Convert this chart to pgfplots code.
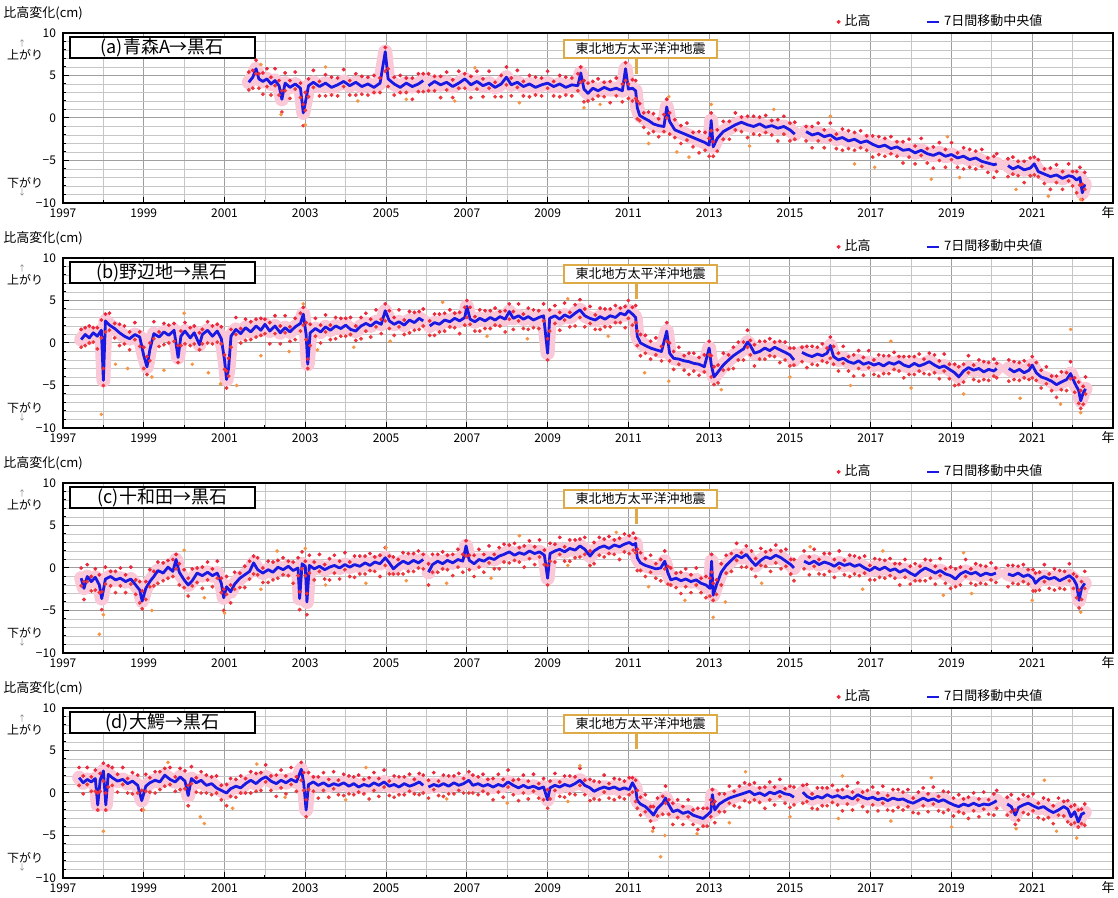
\documentclass[border=0pt]{standalone}
\usepackage{fontspec}
\setmainfont{Noto Sans CJK JP}
\usepackage{pgfplots}
\usepackage{pgfplotstable}
\pgfplotsset{compat=1.18}
\definecolor{dotred}{RGB}{235,40,60}
\definecolor{dotorg}{RGB}{245,150,70}
\definecolor{medblue}{RGB}{25,25,225}
\definecolor{quake}{RGB}{222,170,70}
\definecolor{haze}{RGB}{250,200,215}

\pgfplotstableread{
x y hi lo
2001.60 4.2 5.4 3.3
2001.70 4.8 5.6 3.5
2001.78 5.8 6.8 5.2
2001.85 4.6 5.2 3.5
2001.95 4.3 5.3 2.8
2002.05 4.6 5.8 3.7
2002.15 4.0 4.8 2.7
2002.25 4.4 5.8 3.8
2002.35 3.8 4.4 2.7
2002.42 2.2 3.2 0.7
2002.50 4.1 5.3 3.2
2002.62 3.6 4.4 2.3
2002.75 4.0 5.4 3.4
2002.88 3.5 4.1 2.4
2002.95 0.6 1.6 -0.9
2003.00 1.8 3.0 0.9
2003.08 3.8 4.6 2.5
2003.20 4.2 5.6 3.6
2003.35 3.7 4.3 2.6
2003.50 4.1 5.1 2.6
2003.65 3.6 4.8 2.7
2003.80 3.9 4.7 2.6
2003.95 4.3 5.7 3.7
2004.10 3.8 4.4 2.7
2004.25 4.2 5.2 2.7
2004.40 3.7 4.9 2.8
2004.55 4.0 4.8 2.7
2004.70 3.6 5.0 3.0
2004.85 4.1 4.7 3.0
2004.98 7.8 8.3 5.5
2005.05 4.6 5.8 3.7
2005.20 4.0 4.8 2.7
2005.35 3.6 5.0 3.0
2005.50 4.1 4.7 3.0
2005.65 3.7 4.7 2.2
2005.80 4.0 5.2 3.1
2005.92 4.4 5.2 3.1
nan nan nan nan
2006.05 3.8 5.2 3.2
2006.20 4.3 4.9 3.2
2006.35 3.9 4.9 2.4
2006.50 4.2 5.4 3.3
2006.65 3.7 4.5 2.4
2006.80 4.1 5.5 3.5
2006.95 4.6 5.2 3.5
2007.10 3.9 4.9 2.4
2007.25 4.3 5.5 3.4
2007.40 3.8 4.6 2.5
2007.55 4.1 5.5 3.5
2007.70 3.6 4.2 2.5
2007.85 4.0 5.0 2.5
2007.98 4.8 6.0 3.9
2008.10 3.9 4.7 2.6
2008.25 4.2 5.6 3.6
2008.40 3.7 4.3 2.6
2008.55 4.0 5.0 2.5
2008.70 3.6 4.8 2.7
2008.85 3.9 4.7 2.6
2009.00 4.1 5.5 3.5
2009.15 3.7 4.3 2.6
2009.30 4.0 5.0 2.5
2009.45 3.6 4.8 2.7
2009.60 3.9 4.7 2.6
2009.75 3.8 5.2 3.2
2009.82 5.3 6.0 4.2
2009.90 3.4 4.4 1.9
2010.00 2.9 4.1 2.0
2010.12 3.5 4.3 2.2
2010.25 3.2 4.6 2.6
2010.40 3.6 4.2 2.5
2010.55 3.3 4.3 1.8
2010.70 3.5 4.7 2.6
2010.85 3.2 4.0 1.9
2010.93 5.8 6.5 4.4
2011.00 3.4 4.0 2.3
2011.10 3.5 4.5 2.0
2011.18 3.2 4.4 2.3
2011.22 1.2 2.0 -0.1
2011.28 0.3 1.7 -0.3
2011.38 0.0 0.6 -1.1
2011.50 -0.3 0.7 -1.8
2011.62 -0.7 0.5 -1.6
2011.75 -0.9 -0.1 -2.2
2011.88 -1.0 0.4 -1.6
2011.95 1.3 2.2 0.0
2012.02 -0.4 0.6 -1.9
2012.15 -1.4 -0.2 -2.3
2012.30 -1.7 -0.9 -3.0
2012.45 -2.0 -0.6 -2.6
2012.60 -2.3 -1.7 -3.4
2012.75 -2.6 -1.6 -4.1
2012.90 -2.9 -1.7 -3.8
2013.00 -3.2 -2.4 -4.5
2013.05 -0.3 0.6 -1.5
2013.10 -3.4 -2.8 -4.5
2013.20 -2.4 -1.4 -3.9
2013.35 -1.6 -0.4 -2.5
2013.50 -1.2 -0.4 -2.5
2013.65 -0.8 0.6 -1.4
2013.80 -0.5 0.1 -1.6
2013.95 -0.8 0.2 -2.3
2014.10 -1.0 0.2 -1.9
2014.25 -0.7 0.1 -2.0
2014.40 -1.1 0.3 -1.7
2014.55 -0.9 -0.3 -2.0
2014.70 -1.2 -0.2 -2.7
2014.85 -1.0 0.2 -1.9
2015.00 -1.4 -0.6 -2.7
2015.12 -1.9 -0.5 -2.5
nan nan nan nan
2015.40 -1.6 -1.0 -2.7
2015.55 -2.0 -1.0 -3.5
2015.70 -1.8 -0.6 -2.7
2015.85 -2.2 -1.4 -3.5
2016.00 -2.0 -0.6 -2.6
2016.15 -2.5 -1.9 -3.6
2016.30 -2.3 -1.3 -3.8
2016.45 -2.7 -1.5 -3.6
2016.60 -2.5 -1.7 -3.8
2016.75 -2.9 -1.5 -3.5
2016.90 -2.7 -2.1 -3.8
2017.05 -3.1 -2.1 -4.6
2017.20 -3.4 -2.2 -4.3
2017.35 -3.2 -2.4 -4.5
2017.50 -3.6 -2.2 -4.2
2017.65 -3.4 -2.8 -4.5
2017.80 -3.8 -2.8 -5.3
2017.95 -3.7 -2.5 -4.6
2018.10 -4.1 -3.3 -5.4
2018.25 -3.8 -2.4 -4.4
2018.40 -4.2 -3.6 -5.3
2018.55 -4.4 -3.4 -5.9
2018.70 -4.1 -2.9 -5.0
2018.85 -4.5 -3.7 -5.8
2019.00 -4.3 -2.9 -4.9
2019.15 -4.7 -4.1 -5.8
2019.30 -4.5 -3.5 -6.0
2019.45 -4.9 -3.7 -5.8
2019.60 -4.7 -3.9 -6.0
2019.75 -5.1 -3.7 -5.7
2019.90 -5.3 -4.7 -6.4
2020.05 -5.5 -4.5 -7.0
2020.12 -5.4 -4.2 -6.3
nan nan nan nan
2020.40 -5.6 -4.8 -6.9
2020.52 -6.0 -4.6 -6.6
2020.65 -5.7 -5.1 -6.8
2020.80 -6.1 -5.1 -7.6
2020.95 -5.9 -4.7 -6.8
2021.05 -5.4 -4.6 -6.7
2021.15 -6.3 -4.9 -6.9
2021.30 -6.6 -6.0 -7.7
2021.45 -6.9 -5.9 -8.4
2021.60 -6.7 -5.5 -7.6
2021.75 -7.1 -6.3 -8.4
2021.90 -6.8 -5.4 -7.4
2022.00 -6.9 -6.3 -8.0
2022.10 -7.3 -6.3 -8.8
2022.18 -7.0 -5.8 -7.9
2022.24 -8.8 -7.8 -9.6
2022.30 -7.8 -6.4 -8.4
}\tA

\pgfplotstableread{
x y
2001.9 6.3
2002.4 0.4
2003.0 -0.8
2003.5 6.0
2004.3 2.0
2005.5 2.2
2006.7 2.0
2007.2 5.9
2008.3 1.8
2009.9 1.2
2010.3 1.6
2011.5 -3.0
2012.0 2.5
2012.2 -4.0
2012.5 -4.6
2013.05 1.6
2014.0 -3.3
2014.6 1.0
2016.0 0.2
2016.6 -5.4
2017.1 -5.8
2018.5 -7.2
2018.9 -2.2
2019.2 -7.0
2020.6 -8.4
2021.4 -9.2
2022.2 -9.6
}\oA

\pgfplotstableread{
x y hi lo
1997.45 0.4 1.6 -0.5
1997.55 1.0 1.8 -0.3
1997.65 0.6 2.0 0.0
1997.75 1.2 1.8 0.1
1997.85 0.8 1.8 -0.7
1997.95 1.5 2.7 0.6
1998.00 -4.4 -3.0 -5.0
1998.05 2.6 3.4 1.3
1998.15 2.1 3.5 1.5
1998.28 1.7 2.3 0.6
1998.40 1.2 2.2 -0.3
1998.52 0.8 2.0 -0.1
1998.65 0.5 1.3 -0.8
1998.78 1.0 2.4 0.4
1998.90 0.7 1.3 -0.4
1999.00 -1.5 -0.5 -3.0
1999.08 -2.8 -1.6 -3.7
1999.15 -0.8 0.0 -2.1
1999.25 1.1 2.5 0.5
1999.38 0.7 1.3 -0.4
1999.50 1.3 2.3 -0.2
1999.62 0.9 2.1 0.0
1999.75 1.5 2.3 0.2
1999.85 -1.7 -0.3 -2.3
1999.92 0.8 1.4 -0.3
2000.02 1.4 2.4 -0.1
2000.15 0.6 1.8 -0.3
2000.25 1.2 2.0 -0.1
2000.38 -0.2 1.2 -0.8
2000.45 1.0 1.6 -0.1
2000.58 1.5 2.5 0.0
2000.70 0.8 2.0 -0.1
2000.82 1.4 2.2 0.1
2000.92 0.5 1.9 -0.1
2001.00 -2.0 -1.4 -3.1
2001.05 -4.3 -3.3 -5.3
2001.10 -3.0 -1.8 -3.9
2001.16 0.8 1.6 -0.5
2001.28 1.6 3.0 1.0
2001.40 1.1 1.7 0.0
2001.52 1.8 2.8 0.3
2001.65 1.3 2.5 0.4
2001.78 2.0 2.8 0.7
2001.90 1.5 2.9 0.9
2002.00 2.2 2.8 1.1
2002.12 1.4 2.4 -0.1
2002.25 2.0 3.2 1.1
2002.38 1.2 2.0 -0.1
2002.50 1.8 3.2 1.2
2002.62 1.3 1.9 0.2
2002.75 1.9 2.9 0.4
2002.88 2.3 3.5 1.4
2002.95 3.4 4.2 2.1
2003.02 1.0 2.4 0.4
2003.06 -2.5 -1.9 -3.0
2003.12 1.2 2.2 -0.3
2003.25 1.7 2.9 0.8
2003.38 1.3 2.1 0.0
2003.50 1.9 3.3 1.3
2003.62 1.5 2.1 0.4
2003.75 2.0 3.0 0.5
2003.88 1.7 2.9 0.8
2004.00 2.1 2.9 0.8
2004.12 1.6 3.0 1.0
2004.25 1.4 2.0 0.3
2004.38 2.0 3.0 0.5
2004.50 2.3 3.5 1.4
2004.62 2.0 2.8 0.7
2004.75 2.5 3.9 1.9
2004.88 2.2 2.8 1.1
2004.98 3.8 4.6 2.6
2005.08 2.6 3.8 1.7
2005.20 2.2 3.0 0.9
2005.32 2.5 3.9 1.9
2005.45 2.1 2.7 1.0
2005.58 2.7 3.7 1.2
2005.70 2.4 3.6 1.5
2005.82 2.9 3.7 1.6
2005.92 2.6 4.0 2.0
nan nan nan nan
2006.08 2.0 2.6 0.9
2006.20 2.4 3.4 0.9
2006.32 2.2 3.4 1.3
2006.45 2.7 3.5 1.4
2006.58 2.5 3.9 1.9
2006.70 2.9 3.5 1.8
2006.82 2.6 3.6 1.1
2006.95 3.0 4.2 2.1
2007.00 4.3 5.0 3.0
2007.08 2.8 4.2 2.2
2007.20 2.5 3.1 1.4
2007.32 2.9 3.9 1.4
2007.45 2.6 3.8 1.7
2007.58 3.0 3.8 1.7
2007.70 2.7 4.1 2.1
2007.82 3.1 3.7 2.0
2007.95 2.8 3.8 1.3
2008.05 3.7 4.6 2.8
2008.15 2.9 3.7 1.6
2008.28 3.2 4.6 2.6
2008.40 2.8 3.4 1.7
2008.52 3.1 4.1 1.6
2008.65 2.7 3.9 1.8
2008.78 3.0 3.8 1.7
2008.90 3.2 4.6 2.6
2009.00 -1.2 0.5 -2.0
2009.05 2.9 3.9 1.4
2009.18 3.2 4.4 2.3
2009.30 2.8 3.6 1.5
2009.42 3.3 4.7 2.7
2009.55 3.0 3.6 1.9
2009.68 3.5 4.5 2.0
2009.80 3.9 5.1 3.0
2009.92 3.2 4.0 1.9
2010.05 2.9 4.3 2.3
2010.18 2.7 3.3 1.6
2010.30 3.1 4.1 1.6
2010.42 2.8 4.0 1.9
2010.55 3.2 4.0 1.9
2010.68 3.0 4.4 2.4
2010.80 3.5 4.1 2.4
2010.92 3.3 4.3 1.8
2011.00 3.8 5.0 2.9
2011.10 3.4 4.2 2.1
2011.18 3.0 4.4 2.4
2011.22 0.8 1.4 -0.3
2011.30 0.0 1.0 -1.5
2011.42 -0.3 0.9 -1.2
2011.55 -0.6 0.2 -1.9
2011.68 -0.8 0.6 -1.4
2011.82 -1.0 -0.4 -2.1
2011.95 1.4 2.4 0.2
2012.02 -1.2 0.0 -2.1
2012.12 -1.8 -1.0 -3.1
2012.25 -1.9 -0.5 -2.5
2012.38 -2.1 -1.5 -3.2
2012.50 -2.2 -1.2 -3.7
2012.62 -2.4 -1.2 -3.3
2012.75 -2.5 -1.7 -3.8
2012.88 -2.8 -1.4 -3.4
2013.00 -0.6 0.2 -1.4
2013.05 -2.5 -1.5 -4.0
2013.12 -4.0 -2.8 -4.9
2013.22 -3.4 -2.6 -4.7
2013.35 -2.6 -1.2 -3.2
2013.48 -2.0 -1.4 -3.1
2013.60 -1.5 -0.5 -3.0
2013.72 -1.1 0.1 -2.0
2013.85 -0.7 0.1 -2.0
2013.95 0.1 1.5 -0.5
2014.02 -0.3 0.3 -1.4
2014.12 -1.2 -0.2 -2.7
2014.25 -1.0 0.2 -1.9
2014.38 -0.6 0.2 -1.9
2014.50 -0.9 0.5 -1.5
2014.62 -0.5 0.1 -1.6
2014.75 -0.8 0.2 -2.3
2014.88 -1.1 0.1 -2.0
2015.00 -1.4 -0.6 -2.7
2015.10 -2.0 -0.6 -2.6
nan nan nan nan
2015.30 -1.1 -0.5 -2.2
2015.42 -1.4 -0.4 -2.9
2015.55 -1.6 -0.4 -2.5
2015.68 -1.3 -0.5 -2.6
2015.80 -1.5 -0.1 -2.1
2015.92 -1.2 -0.6 -2.3
2016.00 -0.3 0.7 -1.8
2016.08 -1.6 -0.4 -2.5
2016.20 -2.0 -1.2 -3.3
2016.32 -1.8 -0.4 -2.4
2016.45 -2.2 -1.6 -3.3
2016.58 -2.4 -1.4 -3.9
2016.70 -2.1 -0.9 -3.0
2016.82 -2.5 -1.7 -3.8
2016.95 -2.3 -0.9 -2.9
2017.08 -2.6 -2.0 -3.7
2017.20 -2.4 -1.4 -3.9
2017.32 -2.7 -1.5 -3.6
2017.45 -2.3 -1.5 -3.6
2017.58 -2.5 -1.1 -3.1
2017.70 -2.2 -1.6 -3.3
2017.82 -2.6 -1.6 -4.1
2017.95 -2.8 -1.6 -3.7
2018.08 -2.4 -1.6 -3.7
2018.20 -2.7 -1.3 -3.3
2018.32 -2.5 -1.9 -3.6
2018.45 -2.2 -1.2 -3.7
2018.58 -2.6 -1.4 -3.5
2018.70 -2.9 -2.1 -4.2
2018.82 -2.7 -1.3 -3.3
2018.95 -3.1 -2.5 -4.2
2019.08 -3.5 -2.5 -5.0
2019.18 -4.0 -2.8 -4.9
2019.30 -3.3 -2.5 -4.6
2019.42 -2.9 -1.5 -3.5
2019.55 -3.2 -2.6 -4.3
2019.68 -3.0 -2.0 -4.5
2019.80 -3.4 -2.2 -4.3
2019.92 -3.1 -2.3 -4.4
2020.05 -3.3 -1.9 -3.9
2020.12 -3.0 -2.4 -4.1
nan nan nan nan
2020.42 -3.0 -2.0 -4.5
2020.55 -3.4 -2.2 -4.3
2020.68 -3.1 -2.3 -4.4
2020.80 -3.5 -2.1 -4.1
2020.92 -3.2 -2.6 -4.3
2021.00 -2.6 -1.6 -4.1
2021.10 -3.5 -2.3 -4.4
2021.22 -4.0 -3.2 -5.3
2021.35 -4.2 -2.8 -4.8
2021.48 -4.5 -3.9 -5.6
2021.60 -4.9 -3.9 -6.4
2021.72 -4.6 -3.4 -5.5
2021.85 -4.3 -3.5 -5.6
2021.95 -3.6 -2.2 -4.2
2022.05 -4.7 -4.1 -5.8
2022.15 -5.6 -4.6 -7.1
2022.20 -6.8 -5.6 -7.7
2022.26 -5.9 -5.1 -7.2
2022.32 -5.4 -4.0 -6.0
}\tB

\pgfplotstableread{
x y
1997.95 -8.4
1998.3 -2.5
1998.6 -3.0
1999.2 -4.0
1999.5 -3.2
2000.0 3.5
2000.2 -2.5
2000.6 -3.5
2000.9 -4.8
2001.3 -5.0
2001.9 -1.5
2002.6 -1.0
2002.95 4.6
2003.3 -0.8
2004.2 -0.5
2005.1 0.2
2006.4 4.8
2007.5 0.8
2008.5 0.5
2009.5 5.2
2010.5 0.8
2011.4 -3.5
2012.0 -4.5
2013.3 -5.5
2015.0 -4.0
2016.5 -5.0
2017.5 0.2
2018.0 -5.3
2019.3 -6.0
2020.7 -6.5
2021.7 -7.2
2021.95 1.6
2022.2 -8.2
}\oB

\pgfplotstableread{
x y hi lo
1997.45 -1.2 0.0 -2.1
1997.52 -2.4 -1.6 -3.7
1997.60 -1.0 0.4 -1.6
1997.70 -1.6 -1.0 -2.7
1997.80 -1.1 -0.1 -2.6
1997.90 -2.0 -0.8 -2.9
1997.96 -3.6 -2.8 -4.9
1998.05 -1.3 0.1 -1.9
1998.18 -1.0 -0.4 -2.1
1998.30 -1.4 -0.4 -2.9
1998.42 -1.2 0.0 -2.1
1998.55 -1.6 -0.8 -2.9
1998.68 -1.3 0.1 -1.9
1998.80 -2.0 -1.4 -3.1
1998.90 -2.6 -1.6 -4.1
1998.96 -3.9 -2.7 -4.8
1999.05 -2.4 -1.6 -3.7
1999.15 -1.6 -0.2 -2.2
1999.25 -1.0 -0.4 -2.1
1999.35 -0.3 0.7 -1.8
1999.48 -0.6 0.6 -1.5
1999.60 0.1 0.9 -1.2
1999.72 -0.4 1.0 -1.0
1999.80 1.0 1.6 -0.1
1999.88 -0.5 0.5 -2.0
2000.00 -1.4 -0.2 -2.3
2000.10 -2.0 -1.2 -3.3
2000.20 -1.5 -0.1 -2.1
2000.32 -0.6 0.0 -1.7
2000.45 -0.9 0.1 -2.4
2000.58 -0.5 0.7 -1.4
2000.70 -0.9 -0.1 -2.2
2000.82 -0.6 0.8 -1.2
2000.92 -1.8 -1.2 -2.9
2000.98 -3.5 -2.5 -5.0
2001.05 -2.2 -1.0 -3.1
2001.15 -2.8 -2.0 -4.1
2001.25 -1.9 -0.5 -2.5
2001.38 -1.2 -0.6 -2.3
2001.50 -0.8 0.2 -2.3
2001.62 -0.4 0.8 -1.3
2001.72 0.6 1.4 -0.7
2001.82 -0.2 1.2 -0.8
2001.95 -0.6 0.0 -1.7
2002.08 -0.2 0.8 -1.7
2002.20 -0.5 0.7 -1.4
2002.32 0.1 0.9 -1.2
2002.45 -0.2 1.2 -0.8
2002.58 0.2 0.8 -0.9
2002.70 -0.3 0.7 -1.8
2002.82 0.0 1.2 -0.9
2002.86 -3.6 -2.8 -4.9
2002.92 0.5 1.9 -0.1
2003.00 0.2 0.8 -0.9
2003.04 -4.0 -3.0 -5.5
2003.10 0.3 1.5 -0.6
2003.22 -0.1 0.7 -1.4
2003.35 0.2 1.6 -0.4
2003.48 -0.2 0.4 -1.3
2003.60 0.1 1.1 -1.4
2003.72 0.3 1.5 -0.6
2003.85 0.0 0.8 -1.3
2003.98 0.4 1.8 -0.2
2004.10 0.1 0.7 -1.0
2004.22 0.4 1.4 -1.1
2004.35 0.2 1.4 -0.7
2004.48 0.6 1.4 -0.7
2004.60 0.3 1.7 -0.3
2004.72 0.7 1.3 -0.4
2004.85 0.5 1.5 -1.0
2004.98 1.2 2.4 0.3
2005.08 0.6 1.4 -0.7
2005.18 -0.1 1.3 -0.7
2005.30 0.4 1.0 -0.7
2005.42 0.8 1.8 -0.7
2005.55 0.5 1.7 -0.4
2005.68 0.9 1.7 -0.4
2005.80 0.6 2.0 0.0
2005.92 1.0 1.6 -0.1
nan nan nan nan
2006.05 -0.5 0.5 -2.0
2006.15 0.4 1.6 -0.5
2006.28 0.8 1.6 -0.5
2006.40 0.5 1.9 -0.1
2006.52 0.9 1.5 -0.2
2006.65 0.6 1.6 -0.9
2006.78 1.0 2.2 0.1
2006.90 0.8 1.6 -0.5
2006.98 2.6 3.2 1.4
2007.06 0.9 1.5 -0.2
2007.18 0.5 1.5 -1.0
2007.30 1.0 2.2 0.1
2007.42 0.8 1.6 -0.5
2007.55 1.2 2.6 0.6
2007.68 1.0 1.6 -0.1
2007.80 1.4 2.4 -0.1
2007.92 1.6 2.8 0.7
2008.05 1.9 2.7 0.6
2008.18 1.5 2.9 0.9
2008.30 1.8 2.4 0.7
2008.42 1.6 2.6 0.1
2008.55 2.0 3.2 1.1
2008.68 1.7 2.5 0.4
2008.80 1.9 3.3 1.3
2008.92 1.5 2.1 0.4
2009.00 -1.2 0.3 -2.0
2009.06 1.7 2.9 0.8
2009.18 2.0 2.8 0.7
2009.30 2.2 3.6 1.6
2009.42 1.9 2.5 0.8
2009.55 2.3 3.3 0.8
2009.68 2.1 3.3 1.2
2009.80 2.6 3.4 1.3
2009.92 2.2 3.6 1.6
2010.05 1.4 2.0 0.3
2010.15 2.0 3.0 0.5
2010.28 2.4 3.6 1.5
2010.40 2.6 3.4 1.3
2010.52 2.3 3.7 1.7
2010.65 2.7 3.3 1.6
2010.78 2.5 3.5 1.0
2010.90 2.8 4.0 1.9
2011.02 3.0 3.8 1.7
2011.12 2.7 4.1 2.1
2011.18 2.9 3.5 1.8
2011.22 1.2 2.2 -0.3
2011.30 0.6 1.8 -0.3
2011.42 0.3 1.1 -1.0
2011.55 0.1 1.5 -0.5
2011.68 -0.1 0.5 -1.2
2011.80 0.0 1.0 -1.5
2011.90 0.8 2.0 -0.1
2011.98 -0.6 0.2 -1.9
2012.05 -1.4 0.0 -2.0
2012.18 -1.2 -0.6 -2.3
2012.30 -1.5 -0.5 -3.0
2012.42 -1.3 -0.1 -2.2
2012.55 -1.6 -0.8 -2.9
2012.68 -1.4 0.0 -2.0
2012.80 -1.8 -1.2 -2.9
2012.92 -2.0 -1.0 -3.5
2013.02 -2.4 -1.2 -3.3
2013.06 0.8 1.6 -0.5
2013.10 -3.2 -1.8 -3.8
2013.18 -2.0 -1.4 -3.1
2013.30 -0.5 0.5 -2.0
2013.42 0.3 1.5 -0.6
2013.55 0.9 1.7 -0.4
2013.68 1.5 2.9 0.9
2013.80 1.2 1.8 0.1
2013.92 1.6 2.6 0.1
2014.05 0.8 2.0 -0.1
2014.15 0.3 1.1 -1.0
2014.28 0.9 2.3 0.3
2014.40 1.3 1.9 0.2
2014.52 1.1 2.1 -0.4
2014.65 1.5 2.7 0.6
2014.78 1.2 2.0 -0.1
2014.90 0.8 2.2 0.2
2015.02 0.4 1.0 -0.7
2015.10 0.0 1.0 -1.5
nan nan nan nan
2015.35 0.8 2.0 -0.1
2015.48 0.5 1.3 -0.8
2015.60 0.8 2.2 0.2
2015.72 0.4 1.0 -0.7
2015.85 0.7 1.7 -0.8
2015.98 0.5 1.7 -0.4
2016.10 0.2 1.0 -1.1
2016.22 0.6 2.0 0.0
2016.35 0.3 0.9 -0.8
2016.48 0.5 1.5 -1.0
2016.60 0.2 1.4 -0.7
2016.72 0.4 1.2 -0.9
2016.85 0.0 1.4 -0.6
2016.98 -0.3 0.3 -1.4
2017.10 0.1 1.1 -1.4
2017.22 -0.2 1.0 -1.1
2017.35 0.1 0.9 -1.2
2017.48 -0.3 1.1 -0.9
2017.60 -0.1 0.5 -1.2
2017.72 -0.5 0.5 -2.0
2017.85 -0.2 1.0 -1.1
2017.98 -0.6 0.2 -1.9
2018.10 -0.9 0.5 -1.5
2018.22 -0.4 0.2 -1.5
2018.35 0.0 1.0 -1.5
2018.48 -0.3 0.9 -1.2
2018.60 -0.6 0.2 -1.9
2018.72 -0.3 1.1 -0.9
2018.85 -0.7 -0.1 -1.8
2018.98 -0.9 0.1 -2.4
2019.10 -1.3 -0.1 -2.2
2019.22 -0.7 0.1 -2.0
2019.35 -0.4 1.0 -1.0
2019.48 -0.7 -0.1 -1.8
2019.60 -0.5 0.5 -2.0
2019.72 -0.9 0.3 -1.8
2019.85 -0.6 0.2 -1.9
2019.98 -0.8 0.6 -1.4
2020.10 -0.6 0.0 -1.7
nan nan nan nan
2020.40 -0.7 0.3 -2.2
2020.52 -0.9 0.3 -1.8
2020.65 -0.6 0.2 -1.9
2020.78 -1.0 0.4 -1.6
2020.90 -0.8 -0.2 -1.9
2021.02 -1.2 -0.2 -2.7
2021.08 -1.8 -0.6 -2.7
2021.18 -1.3 -0.5 -2.6
2021.30 -1.0 0.4 -1.6
2021.42 -1.3 -0.7 -2.4
2021.55 -1.1 -0.1 -2.6
2021.68 -1.5 -0.3 -2.4
2021.80 -1.2 -0.4 -2.5
2021.92 -0.9 0.5 -1.5
2022.02 -1.3 -0.7 -2.4
2022.10 -2.0 -1.0 -3.5
2022.16 -3.8 -2.6 -4.7
2022.22 -2.4 -1.6 -3.7
2022.30 -1.8 -0.4 -2.4
}\tC

\pgfplotstableread{
x y
1997.9 -7.8
1998.0 -5.5
1999.2 -5.0
2000.0 2.1
2000.5 -3.5
2001.0 -5.3
2001.9 -2.5
2002.3 2.0
2003.0 2.3
2003.5 -2.0
2004.5 -1.8
2005.0 2.4
2005.5 -1.5
2006.5 -1.8
2007.6 -1.2
2008.3 3.8
2009.5 0.3
2010.7 4.2
2011.5 -2.2
2012.4 -3.8
2013.1 -5.8
2013.4 -4.0
2014.3 -1.8
2015.5 2.5
2016.8 -2.5
2017.3 2.0
2018.8 -3.2
2019.3 1.8
2019.5 -3.0
2021.0 -3.8
2022.2 -5.2
}\oC

\pgfplotstableread{
x y hi lo
1997.40 1.8 3.0 0.9
1997.50 1.2 2.0 -0.1
1997.60 1.6 3.0 1.0
1997.70 1.3 1.9 0.2
1997.80 1.7 2.7 0.2
1997.86 -1.4 0.0 -2.0
1997.92 1.5 2.3 0.2
1998.00 2.6 3.5 1.4
1998.06 -1.4 0.0 -2.0
1998.12 2.2 3.2 0.7
1998.22 1.8 3.0 0.9
1998.35 1.4 2.2 0.1
1998.48 1.6 3.0 1.0
1998.60 1.1 1.7 0.0
1998.72 1.4 2.4 -0.1
1998.85 0.9 2.1 0.0
1998.95 -0.9 0.3 -2.0
1999.05 0.8 2.2 0.2
1999.15 1.2 1.8 0.1
1999.28 1.5 2.5 0.0
1999.40 1.3 2.5 0.4
1999.52 2.1 2.9 0.8
1999.65 1.6 3.0 1.0
1999.78 1.3 1.9 0.2
1999.90 1.9 2.9 0.4
2000.02 1.4 2.6 0.5
2000.10 -0.3 0.9 -1.5
2000.18 1.7 3.1 1.1
2000.30 1.2 1.8 0.1
2000.42 1.5 2.5 0.0
2000.55 0.9 2.1 0.0
2000.68 1.1 1.9 -0.2
2000.80 0.6 2.0 0.0
2000.92 0.3 0.9 -0.8
2001.05 0.0 1.0 -1.5
2001.15 0.5 1.7 -0.4
2001.28 0.8 1.6 -0.5
2001.40 0.6 2.0 0.0
2001.52 1.1 1.7 0.0
2001.65 1.5 2.5 0.0
2001.78 1.1 2.3 0.2
2001.90 1.6 2.4 0.3
2002.02 1.9 3.3 1.3
2002.15 1.4 2.0 0.3
2002.28 1.1 2.1 -0.4
2002.40 1.5 2.7 0.6
2002.52 1.2 2.0 -0.1
2002.65 1.6 3.0 1.0
2002.78 1.3 1.9 0.2
2002.90 2.8 3.6 1.5
2002.96 1.2 2.4 0.3
2003.02 -2.0 -0.8 -2.8
2003.08 1.0 2.4 0.4
2003.20 1.3 1.9 0.2
2003.32 0.9 1.9 -0.6
2003.45 1.2 2.4 0.3
2003.58 0.8 1.6 -0.5
2003.70 1.1 2.5 0.5
2003.82 0.9 1.5 -0.2
2003.95 1.2 2.2 -0.3
2004.08 0.8 2.0 -0.1
2004.20 1.1 1.9 -0.2
2004.32 0.7 2.1 0.1
2004.45 1.0 1.6 -0.1
2004.58 0.8 1.8 -0.7
2004.70 1.2 2.4 0.3
2004.82 0.9 1.7 -0.4
2004.95 1.3 2.7 0.7
2005.08 0.8 1.4 -0.3
2005.20 1.0 2.0 -0.5
2005.32 0.7 1.9 -0.2
2005.45 1.1 1.9 -0.2
2005.58 0.8 2.2 0.2
2005.70 1.0 1.6 -0.1
2005.82 1.3 2.3 -0.2
2005.92 0.9 2.1 0.0
nan nan nan nan
2006.05 0.7 1.5 -0.6
2006.18 1.0 2.4 0.4
2006.30 0.8 1.4 -0.3
2006.42 1.1 2.1 -0.4
2006.55 0.8 2.0 -0.1
2006.68 1.2 2.0 -0.1
2006.80 0.9 2.3 0.3
2006.92 1.1 1.7 0.0
2007.05 1.5 2.5 0.0
2007.15 0.9 2.1 0.0
2007.28 1.1 1.9 -0.2
2007.40 0.8 2.2 0.2
2007.52 1.0 1.6 -0.1
2007.65 0.7 1.7 -0.8
2007.78 1.0 2.2 0.1
2007.90 0.8 1.6 -0.5
2008.02 1.3 2.7 0.7
2008.15 0.9 1.5 -0.2
2008.28 0.6 1.6 -0.9
2008.40 0.9 2.1 0.0
2008.52 0.6 1.4 -0.7
2008.65 0.8 2.2 0.2
2008.78 0.5 1.1 -0.6
2008.90 0.7 1.7 -0.8
2009.00 -0.8 0.4 -1.8
2009.06 0.6 1.4 -0.7
2009.18 0.9 2.3 0.3
2009.30 0.7 1.3 -0.4
2009.42 1.0 2.0 -0.5
2009.55 0.8 2.0 -0.1
2009.68 1.1 1.9 -0.2
2009.80 1.5 2.9 0.9
2009.92 0.9 1.5 -0.2
2010.05 0.6 1.6 -0.9
2010.15 0.2 1.4 -0.7
2010.28 0.5 1.3 -0.8
2010.40 0.7 2.1 0.1
2010.52 0.5 1.1 -0.6
2010.65 0.7 1.7 -0.8
2010.78 0.4 1.6 -0.5
2010.90 0.6 1.4 -0.7
2011.02 0.4 1.8 -0.2
2011.10 1.2 1.8 0.1
2011.18 0.5 1.5 -1.0
2011.22 -0.9 0.3 -1.8
2011.30 -1.3 -0.5 -2.6
2011.42 -1.6 -0.2 -2.2
2011.55 -2.2 -1.6 -3.3
2011.62 -2.6 -1.6 -4.1
2011.72 -1.8 -0.6 -2.7
2011.85 -1.2 -0.4 -2.5
2011.92 -0.6 0.8 -1.2
2012.00 -1.4 -0.8 -2.5
2012.10 -2.2 -1.2 -3.7
2012.22 -2.0 -0.8 -2.9
2012.35 -2.4 -1.6 -3.7
2012.48 -2.2 -0.8 -2.8
2012.60 -2.6 -2.0 -3.7
2012.72 -2.8 -1.8 -4.3
2012.85 -3.0 -1.8 -3.9
2012.95 -2.6 -1.8 -3.9
2013.04 -2.2 -0.8 -2.8
2013.08 -0.2 0.4 -1.3
2013.14 -2.0 -1.0 -3.5
2013.25 -1.3 -0.1 -2.2
2013.38 -0.9 -0.1 -2.2
2013.50 -0.6 0.8 -1.2
2013.62 -0.4 0.2 -1.5
2013.75 -0.2 0.8 -1.7
2013.88 0.0 1.2 -0.9
2014.00 0.2 1.0 -1.1
2014.12 -0.2 1.2 -0.8
2014.25 0.0 0.6 -1.1
2014.38 -0.3 0.7 -1.8
2014.50 0.1 1.3 -0.8
2014.62 -0.1 0.7 -1.4
2014.75 0.2 1.6 -0.4
2014.88 -0.1 0.5 -1.2
2015.00 -0.2 0.8 -1.7
2015.10 -0.5 0.7 -1.4
nan nan nan nan
2015.32 0.1 0.9 -1.2
2015.42 -0.4 1.0 -1.0
2015.55 -0.7 -0.1 -1.8
2015.68 -0.4 0.6 -1.9
2015.80 -0.6 0.6 -1.5
2015.92 -0.2 0.6 -1.5
2016.05 -0.5 0.9 -1.1
2016.18 -0.3 0.3 -1.4
2016.30 -0.6 0.4 -2.1
2016.42 -0.4 0.8 -1.3
2016.55 -0.7 0.1 -2.0
2016.68 -0.2 1.2 -0.8
2016.80 -0.5 0.1 -1.6
2016.92 -0.7 0.3 -2.2
2017.05 -0.5 0.7 -1.4
2017.18 -0.8 0.0 -2.1
2017.30 -0.6 0.8 -1.2
2017.42 -0.9 -0.3 -2.0
2017.55 -0.6 0.4 -2.1
2017.68 -0.8 0.4 -1.7
2017.80 -0.7 0.1 -2.0
2017.92 -1.0 0.4 -1.6
2018.05 -1.2 -0.6 -2.3
2018.18 -0.9 0.1 -2.4
2018.30 -0.6 0.6 -1.5
2018.42 -0.9 -0.1 -2.2
2018.55 -0.7 0.7 -1.3
2018.68 -1.0 -0.4 -2.1
2018.80 -0.8 0.2 -2.3
2018.92 -1.1 0.1 -2.0
2019.05 -1.4 -0.6 -2.7
2019.18 -1.6 -0.2 -2.2
2019.30 -1.3 -0.7 -2.4
2019.42 -1.5 -0.5 -3.0
2019.55 -1.2 0.0 -2.1
2019.68 -1.5 -0.7 -2.8
2019.80 -1.3 0.1 -1.9
2019.92 -1.4 -0.8 -2.5
2020.05 -1.1 -0.1 -2.6
2020.12 -0.9 0.3 -1.8
nan nan nan nan
2020.38 -1.3 -0.5 -2.6
2020.48 -1.6 -0.2 -2.2
2020.58 -2.6 -2.0 -3.7
2020.66 -1.7 -0.7 -3.2
2020.78 -1.4 -0.2 -2.3
2020.90 -1.2 -0.4 -2.5
2021.02 -1.5 -0.1 -2.1
2021.15 -1.8 -1.2 -2.9
2021.28 -1.6 -0.6 -3.1
2021.40 -2.0 -0.8 -2.9
2021.52 -2.3 -1.5 -3.6
2021.65 -2.0 -0.6 -2.6
2021.78 -1.6 -1.0 -2.7
2021.88 -1.9 -0.9 -3.4
2021.96 -2.8 -1.6 -3.7
2022.05 -2.2 -1.4 -3.5
2022.14 -3.4 -2.0 -4.0
2022.22 -2.5 -1.9 -3.6
2022.30 -2.3 -1.3 -3.8
}\tD

\pgfplotstableread{
x y
1998.0 -4.5
1999.0 -2.0
1999.6 3.6
2000.4 -2.8
2000.5 -3.6
2001.2 -1.8
2001.8 3.4
2002.5 -0.5
2004.0 -0.8
2004.5 3.0
2006.5 -0.7
2008.0 -1.2
2009.5 -1.0
2009.8 3.2
2011.6 -4.5
2011.8 -7.5
2011.9 -5.0
2012.7 -4.8
2013.5 -3.5
2013.9 2.5
2015.0 -2.8
2016.2 -3.0
2016.3 2.0
2017.5 -3.3
2018.5 1.8
2019.0 -4.0
2020.6 -4.2
2021.3 1.5
2021.6 -4.5
2022.1 -5.3
}\oD

\pgfplotsset{
  panel/.style={
    scale only axis, width=525pt, height=85pt,
    xmin=1997, xmax=2023, ymin=-10, ymax=10,
    clip=false,
    unbounded coords=jump,
    xtick={1997,1999,2001,2003,2005,2007,2009,2011,2013,2015,2017,2019,2021},
    xticklabels={1997,1999,2001,2003,2005,2007,2009,2011,2013,2015,2017,2019,2021},
    minor xtick={1998,2000,2002,2004,2006,2008,2010,2012,2014,2016,2018,2020,2022},
    ytick={-10,-5,0,5,10},
    yticklabels={−10,−5,0,5,10},
    minor ytick={-9,-8,-7,-6,-4,-3,-2,-1,1,2,3,4,6,7,8,9},
    grid=both,
    major grid style={draw=gray!75, line width=0.5pt},
    minor grid style={draw=gray!45, line width=0.4pt},
    tick align=inside, tick pos=left,
    major tick length=3pt, minor tick length=1.5pt,
    tick style={black, line width=0.5pt},
    axis line style={black, line width=0.8pt},
    /pgf/number format/assume math mode=true,
    tick label style={font=\fontsize{6}{7}\selectfont},
    xticklabel style={yshift=0.5pt},
    legend style={draw=none, fill=none, at={(0.937,1.065)}, anchor=east,
      font=\fontsize{6.5}{7}\selectfont, inner sep=0pt,
      /tikz/every even column/.append style={column sep=26pt}},
    legend columns=2, legend cell align=left,
  },
  band/.style={forget plot, no markers, draw=haze, line width=7pt,
    line join=round, line cap=round},
  hi/.style={only marks, mark=*, mark size=0.75pt, color=dotred,
    legend image code/.code={\fill[dotred] (3pt,0pt) circle (0.8pt);}},
  lo/.style={forget plot, only marks, mark=*, mark size=0.75pt, color=dotred!85!dotorg},
  out/.style={forget plot, only marks, mark=*, mark size=0.7pt, color=dotorg},
  med/.style={medblue, line width=1.4pt, no markers, line join=round,
    legend image code/.code={\draw[medblue, line width=0.8pt] (0pt,0pt) -- (6pt,0pt);}},
}

\newcommand\panelextras[1]{%
  \node[draw=black, fill=white, line width=0.7pt, minimum width=92.5pt, minimum height=10.5pt,
    inner sep=0pt, font=\fontsize{9}{9}\selectfont] at (axis cs:1999.46,8.3) {#1};
  \node[draw=quake, fill=white, line width=0.7pt, minimum width=76.5pt, minimum height=9pt,
    inner sep=0pt, font=\fontsize{6.5}{6.5}\selectfont] at (axis cs:2011.3,8.12) {東北地方太平洋沖地震};
  \draw[quake, line width=1.4pt] (axis cs:2011.2,7.06) -- (axis cs:2011.2,5.2);
  \node[anchor=west, inner sep=0pt, xshift=-30pt, yshift=10pt, font=\fontsize{6.5}{6.5}\selectfont]
    at (rel axis cs:0,1) {比高変化(cm)};
  \node[inner sep=0pt, xshift=-19pt, font=\fontsize{6}{6}\selectfont] at (axis cs:1997,7.4) {上がり};
  \node[inner sep=0pt, xshift=-20.5pt, text=gray, font=\fontsize{4}{4}\selectfont] at (axis cs:1997,8.8) {↑};
  \node[inner sep=0pt, xshift=-19pt, font=\fontsize{6}{6}\selectfont] at (axis cs:1997,-7.6) {下がり};
  \node[inner sep=0pt, xshift=-20.5pt, text=gray, font=\fontsize{4}{4}\selectfont] at (axis cs:1997,-8.8) {↓};
  \node[anchor=north, inner sep=0pt, xshift=-2.5pt, yshift=-1.5pt, font=\fontsize{6.5}{6.5}\selectfont]
    at (rel axis cs:1,0) {年};
}

\begin{document}
\begin{tikzpicture}
\useasboundingbox (0,0) rectangle (559pt,449pt);

\begin{axis}[panel, at={(31.5pt,347.5pt)}, anchor=south west]
\addplot[band] table[x=x,y=y]{\tA};
\addplot[hi] table[x=x,y=hi]{\tA};
\addlegendentry{比高}
\addplot[lo] table[x=x,y=lo]{\tA};
\addplot[out] table[x=x,y=y]{\oA};
\addplot[med] table[x=x,y=y]{\tA};
\addlegendentry{7日間移動中央値}
\panelextras{(a)青森A→黒石}
\end{axis}

\begin{axis}[panel, at={(31.5pt,235pt)}, anchor=south west]
\addplot[band] table[x=x,y=y]{\tB};
\addplot[hi] table[x=x,y=hi]{\tB};
\addlegendentry{比高}
\addplot[lo] table[x=x,y=lo]{\tB};
\addplot[out] table[x=x,y=y]{\oB};
\addplot[med] table[x=x,y=y]{\tB};
\addlegendentry{7日間移動中央値}
\panelextras{(b)野辺地→黒石}
\end{axis}

\begin{axis}[panel, at={(31.5pt,122.5pt)}, anchor=south west]
\addplot[band] table[x=x,y=y]{\tC};
\addplot[hi] table[x=x,y=hi]{\tC};
\addlegendentry{比高}
\addplot[lo] table[x=x,y=lo]{\tC};
\addplot[out] table[x=x,y=y]{\oC};
\addplot[med] table[x=x,y=y]{\tC};
\addlegendentry{7日間移動中央値}
\panelextras{(c)十和田→黒石}
\end{axis}

\begin{axis}[panel, at={(31.5pt,10pt)}, anchor=south west]
\addplot[band] table[x=x,y=y]{\tD};
\addplot[hi] table[x=x,y=hi]{\tD};
\addlegendentry{比高}
\addplot[lo] table[x=x,y=lo]{\tD};
\addplot[out] table[x=x,y=y]{\oD};
\addplot[med] table[x=x,y=y]{\tD};
\addlegendentry{7日間移動中央値}
\panelextras{(d)大鰐→黒石}
\end{axis}
\end{tikzpicture}
\end{document}
